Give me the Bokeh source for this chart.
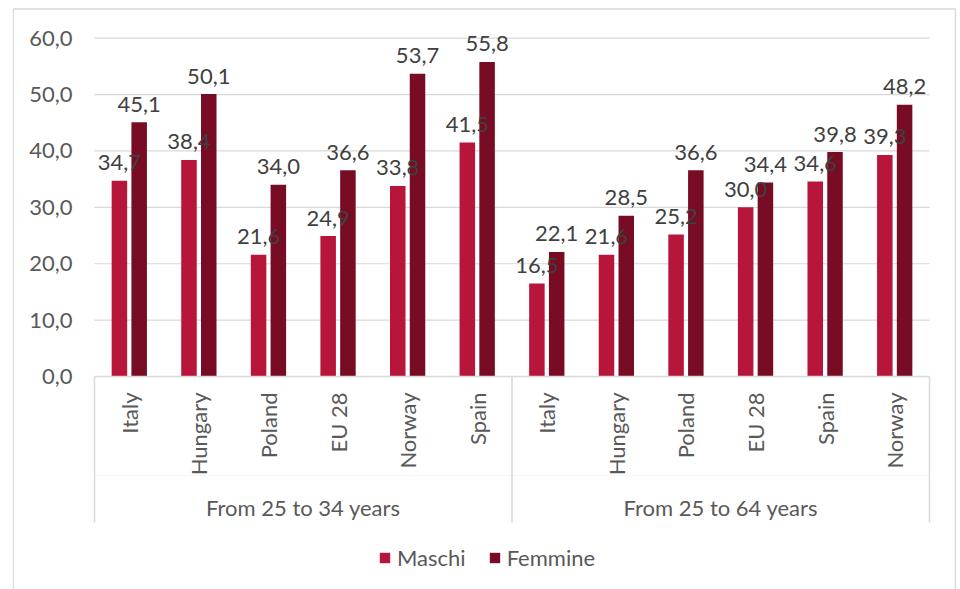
import numpy as np
from bokeh.plotting import figure
from bokeh.models import ColumnDataSource, Legend, LegendItem
from bokeh.core.properties import value
from bokeh.embed import file_html
from bokeh.resources import INLINE

# ---------------- data ----------------
groups = ["From 25 to 34 years", "From 25 to 64 years"]
countries_g1 = ["Italy", "Hungary", "Poland", "EU 28", "Norway", "Spain"]
countries_g2 = ["Italy", "Hungary", "Poland", "EU 28", "Spain", "Norway"]
maschi_g1 = [34.7, 38.4, 21.6, 24.9, 33.8, 41.5]
femmine_g1 = [45.1, 50.1, 34.0, 36.6, 53.7, 55.8]
maschi_g2 = [16.5, 21.6, 25.2, 30.0, 34.6, 39.3]
femmine_g2 = [22.1, 28.5, 36.6, 34.4, 39.8, 48.2]
y_ticks = [0, 10, 20, 30, 40, 50, 60]
series_names = ["Maschi", "Femmine"]

# ---------------- style ----------------
C_M = "#B7163A"
C_F = "#780C24"
GRID = "#D9D9D9"
TXT = "#595959"
LBL = "#404040"
FONT = value("Lato")
FS = "22px"

# ---------------- layout (pixels) ----------------
W, H = 960, 589
frame_left, frame_top, frame_right, frame_bottom = 12, 6, 956, 589
plot_x0, plot_x1 = 94.0, 929.0
y0_px, y60_px = 376.0, 37.7

ncat = len(countries_g1) + len(countries_g2)
px_per_x = (plot_x1 - plot_x0) / ncat
px_per_y = (y0_px - y60_px) / 60.0
x_start = (frame_left - plot_x0) / px_per_x
x_end = (frame_right - plot_x0) / px_per_x
y_end = (y0_px - frame_top) / px_per_y
y_start = (y0_px - frame_bottom) / px_per_y
sep_bottom = (y0_px - 522) / px_per_y
mid_line = (y0_px - 475) / px_per_y
border_top = (y0_px - 8.5) / px_per_y

p = figure(width=W, height=H, output_backend="svg", toolbar_location=None,
           x_range=(x_start, x_end), y_range=(y_start, y_end),
           min_border_left=frame_left, min_border_top=frame_top,
           min_border_right=W - frame_right, min_border_bottom=H - frame_bottom)
p.xaxis.visible = False
p.yaxis.visible = False
p.grid.visible = False
p.outline_line_color = None
p.background_fill_color = "white"
p.border_fill_color = "white"

# outer chart border (left, top, right)
bx0 = x_start + 0.75 / px_per_x
bx1 = x_end - 1.0 / px_per_x
p.segment(x0=[bx0, bx0, bx1], x1=[bx0, bx1, bx1],
          y0=[y_start, border_top, border_top], y1=[border_top, border_top, y_start],
          line_color=GRID, line_width=1.5)

countries = countries_g1 + countries_g2
maschi = maschi_g1 + maschi_g2
femmine = femmine_g1 + femmine_g2
centers = np.arange(ncat) + 0.5
off = 0.142
bw = 0.223

# grid lines
grid_ticks = y_ticks[1:]
p.segment(x0=[0] * len(grid_ticks), x1=[ncat] * len(grid_ticks), y0=grid_ticks, y1=grid_ticks,
          line_color=GRID, line_width=1.2)

# faint line between label levels
p.segment(x0=[0], x1=[ncat], y0=[mid_line], y1=[mid_line], line_color="#F7F7F7", line_width=1)

# category separators
n1 = len(countries_g1)
seps = [0, n1, ncat]
p.segment(x0=seps, x1=seps, y0=[0] * 3, y1=[sep_bottom] * 3, line_color=GRID, line_width=1.5)

src = ColumnDataSource(dict(
    xm=centers - off, xf=centers + off, m=maschi, f=femmine,
    ml=[f"{v:.1f}".replace(".", ",") for v in maschi],
    fl=[f"{v:.1f}".replace(".", ",") for v in femmine],
    xc=centers, c=countries, zero=[0] * ncat,
))
rm = p.vbar(x="xm", top="m", width=bw, bottom=0, source=src, fill_color=C_M, line_color=None)
rf = p.vbar(x="xf", top="f", width=bw, bottom=0, source=src, fill_color=C_F, line_color=None)

# axis line at zero
p.segment(x0=[0], x1=[ncat], y0=[0], y1=[0], line_color=GRID, line_width=1.5)

# data labels
p.text(x="xm", y="m", text="ml", source=src, text_align="center", text_baseline="alphabetic",
       y_offset=-18, text_font=FONT, text_font_size=FS, text_color=LBL)
p.text(x="xf", y="f", text="fl", source=src, text_align="center", text_baseline="alphabetic",
       y_offset=-18, text_font=FONT, text_font_size=FS, text_color=LBL)

# y tick labels
p.text(x=[0] * len(y_ticks), y=y_ticks, text=[f"{t:.1f}".replace(".", ",") for t in y_ticks],
       text_align="right", text_baseline="middle", x_offset=-22,
       text_font=FONT, text_font_size=FS, text_color=TXT)

# category labels (rotated)
p.text(x="xc", y="zero", text="c", source=src, angle=np.pi / 2, text_align="right",
       text_baseline="middle", y_offset=16, text_font=FONT, text_font_size=FS, text_color=TXT)

# group labels
p.text(x=[n1 / 2, n1 + (ncat - n1) / 2], y=[0, 0], text=groups, text_align="center",
       text_baseline="middle", y_offset=131, text_font=FONT, text_font_size=FS, text_color=TXT)

legend = Legend(items=[LegendItem(label=series_names[0], renderers=[rm]),
                       LegendItem(label=series_names[1], renderers=[rf])],
                orientation="horizontal", location=(366, 18),
                glyph_width=13, glyph_height=13, label_standoff=6, spacing=22,
                padding=0, margin=0, border_line_color=None, background_fill_alpha=0,
                label_text_font="Lato", label_text_font_size=FS, label_text_color=TXT)
p.add_layout(legend)

open("out.html", "w").write(file_html(p, INLINE))
